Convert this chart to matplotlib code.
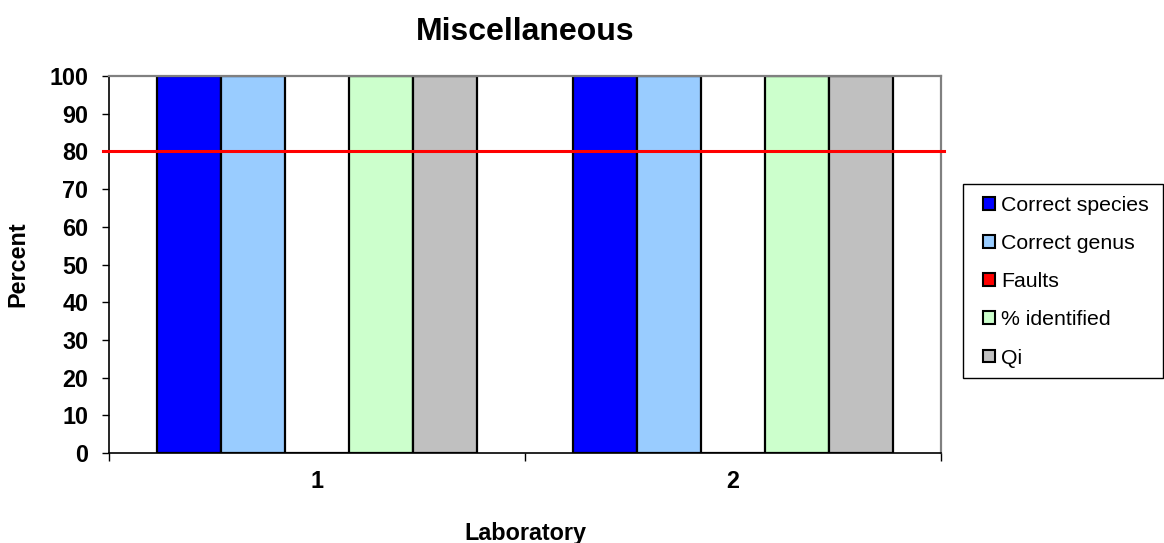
import numpy as np
import matplotlib
matplotlib.use("Agg")
import matplotlib.pyplot as plt
from matplotlib.patches import Patch, Rectangle

plt.rcParams['font.family'] = ['Liberation Sans', 'DejaVu Sans']

# Données du graphique
laboratories = ["1", "2"]
series_names = ["Correct species", "Correct genus", "Faults", "% identified", "Qi"]
series_values = {
    "Correct species": [100, 100],
    "Correct genus": [100, 100],
    "Faults": [0, 0],
    "% identified": [100, 100],
    "Qi": [100, 100],
}
series_colors = ["#0000FF", "#99CCFF", "#FF0000", "#CCFFCC", "#C0C0C0"]
threshold = 80
y_ticks = list(range(0, 101, 10))

W, H = 1164, 543
fig = plt.figure(figsize=(W / 100, H / 100), dpi=100)
ax = fig.add_axes([109 / W, 1 - 453 / H, 832 / W, 377 / H])

x = np.arange(1, len(laboratories) + 1)
width = 1 / 6.5
for j, name in enumerate(series_names):
    ax.bar(x + (j - 2) * width, series_values[name], width=width,
           color=series_colors[j], edgecolor="black", linewidth=1.6, zorder=2)

# Ligne de seuil en rouge
ax.axhline(threshold, xmin=-0.007, xmax=1.004, color="#FF0000", linewidth=2.2,
           clip_on=False, zorder=3)

ax.set_xlim(0.5, len(laboratories) + 0.5)
ax.set_ylim(0, 100)
ax.set_yticks(y_ticks)
ax.set_yticklabels([str(v) for v in y_ticks], fontsize=16.8, fontweight="bold")
ax.tick_params(axis="y", direction="out", length=5, width=1, pad=10)

ax.set_xticks(np.arange(0.5, len(laboratories) + 1, 1))
ax.set_xticklabels([])
ax.set_xticks(x, minor=True)
ax.set_xticklabels(laboratories, minor=True, fontsize=16.8, fontweight="bold")
ax.tick_params(axis="x", which="major", direction="out", length=6, width=1)
ax.tick_params(axis="x", which="minor", length=0, pad=12)

for side in ["top", "right"]:
    ax.spines[side].set_color("#808080")
    ax.spines[side].set_linewidth(1.6)
for side in ["left", "bottom"]:
    ax.spines[side].set_color("black")
    ax.spines[side].set_linewidth(1.2)

ax.set_title("Miscellaneous", fontsize=23, fontweight="bold", pad=26)
ax.set_xlabel("Laboratory", fontsize=16.8, fontweight="bold", labelpad=21)
ax.set_ylabel("Percent", fontsize=16.8, fontweight="bold", labelpad=14)

# Légende à droite, cadre dessiné à part
fig.patches.append(Rectangle((963 / W, 1 - 378 / H), 200 / W, 194 / H,
                             transform=fig.transFigure, facecolor="white",
                             edgecolor="black", linewidth=1.0))
handles = [Patch(facecolor=c, edgecolor="black", linewidth=1.5) for c in series_colors]
leg = fig.legend(handles, series_names, loc="upper left",
                 bbox_to_anchor=(983 / W, 1 - 196 / H),
                 fontsize=15.3, frameon=False,
                 handlelength=0.55, handleheight=0.55, handletextpad=0.3,
                 labelspacing=0.9, borderpad=0, borderaxespad=0)

fig.savefig("out.png", dpi=100)
